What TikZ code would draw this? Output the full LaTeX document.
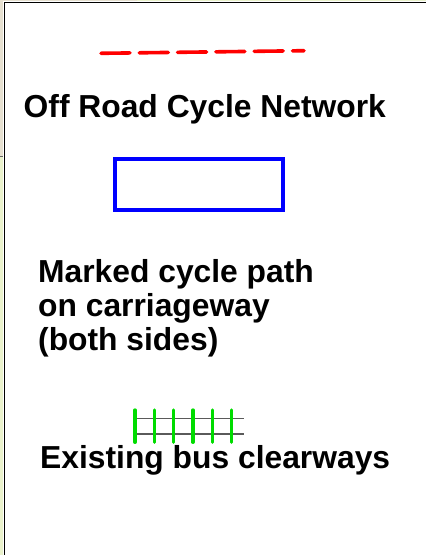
\documentclass[tikz,border=0pt]{standalone}
\usepackage{fontspec}
\setmainfont{Liberation Sans}
\usepackage{tikz}
\definecolor{winbeige}{RGB}{230,224,208}
\definecolor{wingreen}{RGB}{234,242,204}
\definecolor{legred}{RGB}{255,0,0}
\definecolor{legblue}{RGB}{0,0,255}
\definecolor{leggreen}{RGB}{0,220,0}
\definecolor{railgrey}{RGB}{90,90,90}

\begin{document}
\begin{tikzpicture}[x=1pt,y=-1pt,
      every node/.style={font=\fontsize{31.8}{34}\selectfont\bfseries,inner sep=0pt},
      label/.style={anchor=base west,align=left},
      offroad/.style={draw=legred,line width=3.6pt,line cap=round,dash pattern=on 29pt off 9.3pt},
      marked/.style={draw=legblue,line width=4pt},
      rail/.style={draw=railgrey,line width=1.6pt},
      tick/.style={draw=leggreen,line width=3.3pt,line cap=round}]
      \useasboundingbox (0,0) rectangle (426,555);
      % window edge
      \fill[winbeige] (0,0) rectangle (3.4,156);
      \fill[wingreen] (0,156) rectangle (3.4,555);
      \fill[winbeige] (0,0) rectangle (137,1.2);
      \fill[wingreen] (137,0) rectangle (426,1.2);
      \draw[black!60,line width=1pt] (0,156) -- (3.4,156);
      \draw[black,line width=1.3pt] (4.2,2) -- (4.2,555);
      \draw[black,line width=1pt] (4.2,2) -- (426,2);
      % off road network
      \coordinate (r1) at (101,53.3);
      \coordinate (r2) at (304,50.7);
      \draw[offroad] (r1) -- (r2);
      \node[label] (offtxt) at (23.5,117) {Off Road Cycle Network};
      % marked path
      \draw[marked] (114.7,159.3) rectangle (283,210);
      \node[label] (marktxt) at (38,350) {Marked cycle path\\on carriageway\\(both sides)};
      % bus clearways
      \coordinate (b1) at (135,418.3);
      \coordinate (b2) at (244,418.3);
      \coordinate (b3) at (135,433.7);
      \coordinate (b4) at (244,433.7);
      \draw[rail] (b1) -- (b2);
      \draw[rail] (b3) -- (b4);
      \foreach \x in {135,154.3,173.6,192.9,212.2,231.5}
        \draw[tick] (\x,410) -- (\x,442.3);
      \node[label] (bustxt) at (40,468) {Existing bus clearways};
    \end{tikzpicture}
\end{document}
